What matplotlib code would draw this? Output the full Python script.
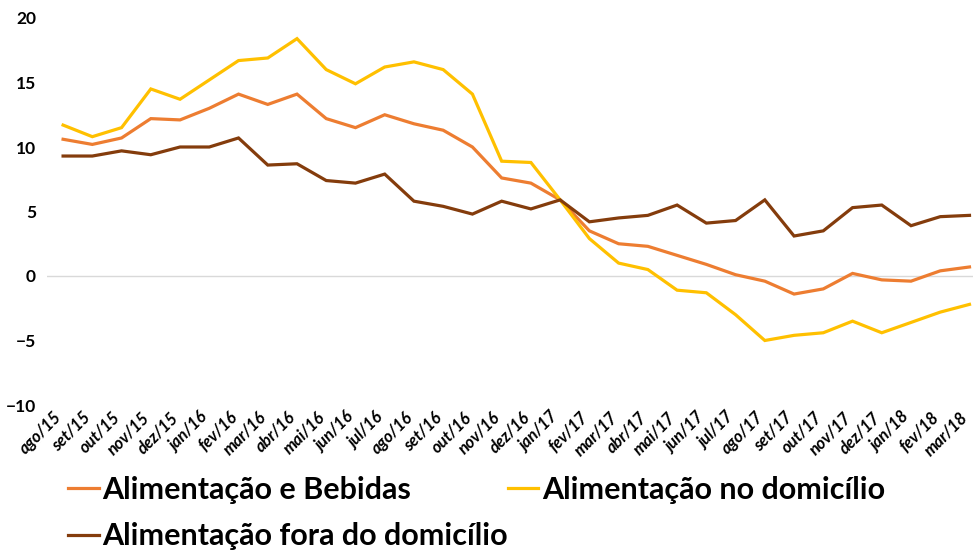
import matplotlib
matplotlib.use("Agg")
import matplotlib.pyplot as plt

months = ["ago/15", "set/15", "out/15", "nov/15", "dez/15", "jan/16", "fev/16", "mar/16",
          "abr/16", "mai/16", "jun/16", "jul/16", "ago/16", "set/16", "out/16", "nov/16",
          "dez/16", "jan/17", "fev/17", "mar/17", "abr/17", "mai/17", "jun/17", "jul/17",
          "ago/17", "set/17", "out/17", "nov/17", "dez/17", "jan/18", "fev/18", "mar/18"]

alim_bebidas = [10.6, 10.2, 10.7, 12.2, 12.1, 13.0, 14.1, 13.3, 14.1, 12.2, 11.5, 12.5,
                11.8, 11.3, 10.0, 7.6, 7.2, 5.9, 3.5, 2.5, 2.3, 1.6, 0.9, 0.1,
                -0.4, -1.4, -1.0, 0.2, -0.3, -0.4, 0.4, 0.7]
alim_domicilio = [11.7, 10.8, 11.5, 14.5, 13.7, 15.2, 16.7, 16.9, 18.4, 16.0, 14.9, 16.2,
                  16.6, 16.0, 14.1, 8.9, 8.8, 5.9, 2.9, 1.0, 0.5, -1.1, -1.3, -3.0,
                  -5.0, -4.6, -4.4, -3.5, -4.4, -3.6, -2.8, -2.2]
alim_fora = [9.3, 9.3, 9.7, 9.4, 10.0, 10.0, 10.7, 8.6, 8.7, 7.4, 7.2, 7.9,
             5.8, 5.4, 4.8, 5.8, 5.2, 5.9, 4.2, 4.5, 4.7, 5.5, 4.1, 4.3,
             5.9, 3.1, 3.5, 5.3, 5.5, 3.9, 4.6, 4.7]

series = [
    ("Alimentação e Bebidas", alim_bebidas, "#ED7D31"),
    ("Alimentação no domicílio", alim_domicilio, "#FFC000"),
    ("Alimentação fora do domicílio", alim_fora, "#843C0C"),
]

plt.rcParams['font.family'] = ['Lato', 'DejaVu Sans']

fig = plt.figure(figsize=(9.73, 5.52), dpi=100)
ax = fig.add_axes([47/973, (552-405)/552, 1 - 47/973, (405-18)/552])

x = list(range(len(months)))
lines = {}
for name, vals, col in series:
    lines[name], = ax.plot(x, vals, color=col, lw=2.3, label=name, solid_joinstyle='miter')

ax.set_ylim(-10, 20)
ax.set_yticks([-10, -5, 0, 5, 10, 15, 20])
ax.set_xlim(-0.55, 31.12)
ax.axhline(0, color="#D9D9D9", lw=1, zorder=0)
ax.set_xticks(x)
ax.set_xticklabels([])
for i, m in zip(x, months):
    ax.annotate(m, xy=(i, 0), xycoords=('data', 'axes fraction'),
                xytext=(-7, -3), textcoords='offset points',
                rotation=45, ha='right', va='top', rotation_mode='anchor',
                fontsize=12, fontweight='bold', fontstyle='italic', annotation_clip=False)
for lbl in ax.get_yticklabels():
    lbl.set_fontsize(12.5)
    lbl.set_fontweight('bold')
ax.tick_params(axis='both', length=0, pad=4)
ax.tick_params(axis='y', pad=8)
for s in ax.spines.values():
    s.set_visible(False)

order = ["Alimentação e Bebidas", "Alimentação fora do domicílio", "Alimentação no domicílio"]
fig.legend([lines[n] for n in order], order,
           loc='upper left', bbox_to_anchor=(68/973, 1 - 476/552), ncol=2, frameon=False,
           prop={'size': 22, 'weight': 'bold'}, handlelength=1.0, handletextpad=0.12,
           columnspacing=0.0, labelspacing=0.6, borderaxespad=0, borderpad=0)

fig.savefig("out.png", dpi=100)
